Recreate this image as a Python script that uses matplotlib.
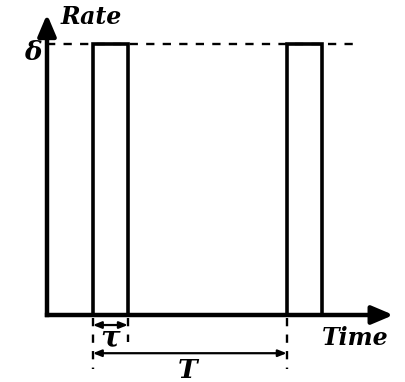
import numpy as np
from matplotlib import pyplot as plt

# pulse train parameters (time in units of tau, rate in units of delta)
delta = 1.0
tau = 1.0
T = 5.54
t_first = 1.31
pulse_starts = [t_first, t_first + T]

# axis extents
t_axis_end = 9.9
rate_axis_end = 1.11

fig = plt.figure(figsize=(4.06, 3.82), dpi=100)
ax = fig.add_axes([0, 0, 1, 1])
ax.set_xlim(-47 / 35, (406 - 47) / 35)
ax.set_ylim(-(382 - 315) / 271, 315 / 271)
ax.axis('off')

font = dict(family='DejaVu Serif', style='italic', weight='bold')

# rectangular pulses
t = [0]
r = [0]
for s in pulse_starts:
    t += [s, s, s + tau, s + tau]
    r += [0, delta, delta, 0]
ax.plot(t, r, color='black', lw=2.6, solid_joinstyle='miter', zorder=3)

# dashed level line for delta
ax.plot([0, 8.9], [delta, delta], color='black', lw=1.7, ls=(0, (3.5, 3.5)))

# axes with arrows
arrow_axis = dict(arrowstyle='-|>,head_length=1.3,head_width=0.55',
                  lw=3.2, color='black', shrinkA=0, shrinkB=0, capstyle='butt')
ax.annotate('', xy=(t_axis_end, 0), xytext=(-0.062, 0), arrowprops=arrow_axis)
ax.annotate('', xy=(0, rate_axis_end), xytext=(0, -0.008), arrowprops=arrow_axis)

# dashed markers below the time axis
dash = dict(color='black', lw=1.7, ls=(0, (3.5, 3.5)))
ax.plot([t_first, t_first], [-0.01, -0.2], **dash)
ax.plot([t_first + tau, t_first + tau], [-0.01, -0.1], **dash)
ax.plot([t_first + T, t_first + T], [-0.01, -0.2], **dash)

# tau and T spans
span = dict(arrowstyle='<|-|>,head_length=0.5,head_width=0.2',
            lw=1.6, color='black', shrinkA=0, shrinkB=0)
ax.annotate('', xy=(t_first, -0.037), xytext=(t_first + tau, -0.037), arrowprops=span)
ax.annotate('', xy=(t_first, -0.141), xytext=(t_first + T, -0.141), arrowprops=span)

ax.text(t_first + tau / 2, -0.085, 'τ', fontsize=21, ha='center', va='center', **font)
ax.text(t_first + T / 2 - 0.05, -0.205, 'T', fontsize=19, ha='center', va='center', **font)
ax.text(0.4, 1.1, 'Rate', fontsize=17, ha='left', va='center', **font)
ax.text(-0.15, 0.97, 'δ', fontsize=19, ha='right', va='center', **font)
ax.text(7.85, -0.085, 'Time', fontsize=17, ha='left', va='center', **font)

plt.savefig('out.png', dpi=100)
